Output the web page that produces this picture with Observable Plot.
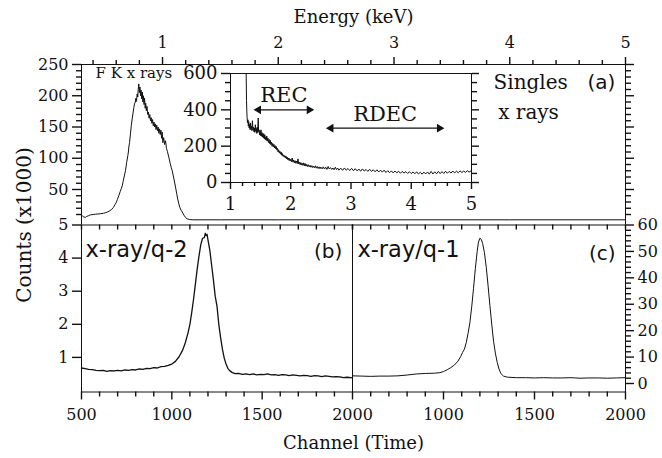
<!DOCTYPE html>
<html>
<head>
<meta charset="utf-8">
<script src="https://cdn.jsdelivr.net/npm/d3@7"></script>
<script src="https://cdn.jsdelivr.net/npm/@observablehq/plot@0.6"></script>
<style>
  html, body { margin: 0; padding: 0; background: #fff; }
  #chart { position: relative; width: 662px; height: 458px; background: #fff; overflow: hidden; }
  #chart svg { position: absolute; left: 0; top: 0; }
</style>
</head>
<body>
<div id="chart"></div>
<script>
// ---------- Panel (a): singles x-ray spectrum (energy in keV, counts x1000) ----------
const energyA = [0.300,0.310,0.320,0.335,0.345,0.360,0.378,0.400,0.420,0.440,0.464,0.490,0.510,0.522,0.540,0.560,0.576,0.590,0.600,0.610,
  0.622,0.635,0.645,0.652,0.660,0.668,0.675,0.680,0.690,0.700,0.705,0.709,0.715,0.723,0.730,0.738,0.745,0.752,0.758,0.765,
  0.770,0.775,0.781,0.786,0.790,0.795,0.800,0.805,0.810,0.815,0.820,0.825,0.830,0.835,0.840,0.845,0.850,0.855,0.860,0.866,
  0.872,0.878,0.884,0.890,0.896,0.902,0.908,0.914,0.920,0.926,0.932,0.938,0.944,0.950,0.956,0.962,0.968,0.974,0.980,0.986,
  0.992,0.997,1.003,1.010,1.018,1.026,1.034,1.042,1.054,1.066,1.076,1.084,1.095,1.104,1.112,1.122,1.131,1.141,1.150,1.160,
  1.170,1.185,1.200,1.213,1.235,1.256,1.500,2.000,3.000,4.000,5.000];
const countsA = [8.5,7.5,6.0,5.5,7.0,8.0,9.5,10.0,10.5,10.8,11.2,12.0,13.0,13.8,15.5,18.0,21.5,26.0,29.0,34.0,
  40.0,47.0,52.0,56.0,63.0,70.0,76.0,80.0,93.0,104.0,110.0,118.0,125.0,139.0,152.0,163.0,172.0,181.0,187.0,190.0,
  196.0,191.0,203.0,198.0,210.0,219.0,205.0,214.0,200.0,209.0,195.0,206.0,190.0,200.0,186.0,196.0,180.0,188.0,176.0,183.0,
  170.0,174.0,164.0,170.0,160.0,165.0,156.0,162.0,152.0,158.0,150.0,155.0,146.0,153.0,144.0,150.0,140.0,147.0,138.0,145.0,
  132.0,142.0,125.0,133.0,122.0,128.0,116.0,111.0,102.0,92.0,85.0,80.0,70.0,62.0,54.0,44.0,35.0,27.0,21.0,17.0,
  14.0,9.0,5.0,3.0,2.0,1.5,1.5,1.5,1.5,1.5,1.5];

// ---------- Inset: REC / RDEC region (energy in keV, counts) ----------
const insetEnergy = [1.260,1.263,1.266,1.270,1.275,1.282,1.290,1.296,1.303,1.310,1.318,1.325,1.333,1.340,1.348,1.356,1.364,1.372,1.380,1.388,
  1.396,1.404,1.412,1.420,1.428,1.436,1.444,1.452,1.460,1.466,1.474,1.482,1.490,1.498,1.506,1.514,1.522,1.530,1.538,1.546,
  1.554,1.562,1.570,1.578,1.586,1.594,1.602,1.610,1.620,1.630,1.640,1.650,1.660,1.670,1.680,1.690,1.700,1.710,1.720,1.730,
  1.740,1.750,1.760,1.770,1.780,1.790,1.800,1.810,1.820,1.830,1.840,1.850,1.860,1.870,1.880,1.890,1.900,1.910,1.920,1.930,
  1.940,1.950,1.960,1.970,1.980,1.990,2.000,2.012,2.024,2.036,2.048,2.060,2.072,2.084,2.096,2.108,2.120,2.132,2.144,2.156,
  2.168,2.180,2.192,2.204,2.216,2.228,2.240,2.252,2.264,2.276,2.290,2.305,2.320,2.335,2.350,2.365,2.380,2.395,2.410,2.425,
  2.440,2.455,2.470,2.485,2.500,2.520,2.540,2.560,2.580,2.600,2.620,2.640,2.660,2.680,2.700,2.720,2.740,2.760,2.780,2.800,
  2.830,2.860,2.890,2.920,2.950,2.980,3.010,3.040,3.070,3.100,3.130,3.160,3.190,3.220,3.250,3.280,3.310,3.340,3.370,3.400,
  3.430,3.460,3.490,3.520,3.550,3.580,3.610,3.640,3.670,3.700,3.730,3.760,3.790,3.820,3.850,3.880,3.910,3.940,3.970,4.000,
  4.030,4.060,4.090,4.120,4.150,4.180,4.210,4.240,4.270,4.300,4.330,4.360,4.390,4.420,4.450,4.480,4.510,4.540,4.570,4.600,
  4.630,4.660,4.690,4.720,4.750,4.780,4.810,4.840,4.870,4.900,4.930,4.960,4.990];
const insetCounts = [600,520,450,398,360,330,345,310,335,300,320,290,328,295,310,285,340,290,305,280,
  300,276,318,282,298,270,305,275,355,280,290,262,285,258,290,255,275,250,270,246,
  268,240,262,236,250,232,256,228,245,220,238,214,232,208,222,200,215,196,210,190,
  203,185,198,178,188,168,180,162,172,156,168,150,160,145,152,140,148,135,146,130,
  140,126,135,122,132,118,128,115,135,112,124,108,120,106,118,104,130,102,112,98,
  110,96,106,94,108,92,104,90,100,88,98,86,95,84,93,82,90,80,92,79,
  88,77,86,76,85,75,86,74,84,72,88,74,82,72,80,70,84,71,79,68,
  79,67,80,68,77,66,78,65,76,64,74,62,75,63,72,61,73,61,70,59,
  70,58,68,57,68,55,65,54,64,53,63,53,62,51,61,52,60,50,59,49,
  58,48,59,47,56,46,57,47,58,46,61,47,59,48,61,49,60,50,62,51,
  61,52,63,53,62,54,64,55,63,56,65,57,64];

// ---------- Panel (b): x-ray/q-2 coincidence (channel, counts x1000) ----------
const channelB = [500,520,540,560,580,600,620,640,660,680,700,720,740,760,780,800,820,840,860,880,
  900,920,940,960,980,1000,1020,1040,1060,1075,1090,1100,1110,1120,1130,1140,1150,1160,1170,1180,
  1185,1190,1195,1200,1210,1220,1230,1240,1250,1260,1270,1280,1290,1300,1310,1320,1335,1350,1370,1390,
  1410,1430,1450,1470,1490,1510,1530,1550,1570,1590,1610,1630,1650,1670,1690,1710,1730,1750,1770,1790,
  1810,1830,1850,1870,1890,1910,1930,1950,1970,1990,2000];
const countsB = [0.68,0.66,0.64,0.63,0.61,0.60,0.61,0.58,0.60,0.59,0.61,0.59,0.62,0.61,0.63,0.62,0.65,0.64,0.67,0.66,
  0.69,0.68,0.72,0.73,0.76,0.80,0.88,1.02,1.22,1.45,1.75,2.00,2.35,2.75,3.20,3.65,4.05,4.40,4.60,4.62,
  4.75,4.68,4.72,4.55,4.25,3.80,3.35,2.85,2.55,2.00,1.60,1.25,0.98,0.80,0.67,0.60,0.54,0.51,0.52,0.49,
  0.50,0.48,0.50,0.47,0.49,0.48,0.50,0.47,0.48,0.46,0.48,0.47,0.45,0.47,0.46,0.44,0.46,0.45,0.43,0.45,
  0.44,0.42,0.44,0.43,0.41,0.42,0.41,0.39,0.40,0.39,0.38];

// ---------- Panel (c): x-ray/q-1 coincidence (channel, counts x1000) ----------
const channelC = [500,550,600,650,700,750,800,850,900,950,980,1000,1020,1040,1060,1080,1095,1105,1115,1125,
  1135,1145,1155,1165,1175,1185,1192,1200,1208,1215,1225,1235,1245,1255,1265,1275,1285,1295,1305,1315,
  1330,1350,1400,1450,1500,1550,1600,1650,1700,1750,1800,1850,1900,1950,2000];
const countsC = [2.9,2.8,2.7,2.8,2.8,2.9,3.2,3.6,3.8,3.9,4.1,4.5,5.2,6.0,7.0,8.5,10.3,11.8,13.0,15.5,
  19.0,23.0,29.0,36.0,43.5,50.0,53.5,55.0,54.5,53.0,49.5,44.0,37.0,29.5,22.5,16.0,11.5,8.0,5.5,3.8,
  2.8,2.4,2.2,2.2,2.1,2.2,2.1,2.1,2.2,2.0,2.1,2.1,2.0,2.1,2.2];

// ---------- Tick labels ----------
const energyTicks = [1, 2, 3, 4, 5];
const countsATicks = [50, 100, 150, 200, 250];
const insetXTicks = [1, 2, 3, 4, 5];
const insetYTicks = [0, 200, 400, 600];
const countsBTicks = [1, 2, 3, 4, 5];
const channelBTicks = [500, 1000, 1500, 2000];
const channelCTicks = [1000, 1500, 2000];
const countsCTicks = [0, 10, 20, 30, 40, 50, 60];

// ---------- Annotations ----------
const arrowsInset = [
  {label: "REC", from: 1.415, to: 2.357, level: 400},
  {label: "RDEC", from: 2.617, to: 4.517, level: 299}
];

// ---------- Layout ----------
const W = 662, H = 458;
const ink = "#111";
const serif = "DejaVu Serif";
const sans = "DejaVu Sans";
const tw = 1.4;
const box = {aL: 81, aR: 625, aT: 64, mid: 224.5, bR: 352, bot: 391.5};
const minorE = d3.range(2, 26).filter(i => i % 5 !== 0).map(i => i / 5);
const minorA = d3.range(1, 26).filter(i => i % 5 !== 0).map(i => i * 10);
const minorInsetY = d3.range(1, 12).filter(i => i % 4 !== 0).map(i => i * 50);
const minorInsetX = d3.range(5, 26).filter(i => i % 5 !== 0).map(i => i / 5);
const minorCh = d3.range(6, 20).filter(i => i % 5 !== 0).map(i => i * 100);
const allCh = d3.range(5, 21).map(i => i * 100);
const minorC = d3.range(1, 30).filter(i => i % 5 !== 0).map(i => i * 2);
const blank = () => "";
const plain = d => String(d);

const chart = document.getElementById("chart");
function add(svg) {
  svg.style.position = "absolute";
  svg.style.left = "0px";
  svg.style.top = "0px";
  svg.style.background = "transparent";
  svg.style.overflow = "visible";
  chart.appendChild(svg);
}
const baseStyle = {fontFamily: serif, fontSize: "16px", background: "transparent", overflow: "visible", color: ink};

// Panel (a)
add(Plot.plot({
  width: W, height: H,
  marginTop: box.aT, marginBottom: H - box.mid, marginLeft: box.aL, marginRight: W - box.aR,
  x: {type: "linear", domain: [0.30, 5], axis: null},
  y: {type: "linear", domain: [-6.8, 250], axis: null},
  style: baseStyle,
  marks: [
    Plot.ruleY([250], {stroke: ink}),
    Plot.ruleX([0.30, 5], {stroke: ink}),
    Plot.axisX(minorE, {anchor: "top", tickSize: 5, tickFormat: blank, label: null, stroke: ink, strokeWidth: tw}),
    Plot.axisX(energyTicks, {anchor: "top", tickSize: 8, tickPadding: 9, tickFormat: plain, label: null, fontSize: 16, stroke: ink, strokeWidth: tw, fill: ink}),
    Plot.axisY(minorA, {anchor: "left", tickSize: 5, tickFormat: blank, label: null, stroke: ink, strokeWidth: tw}),
    Plot.axisY(countsATicks, {anchor: "left", tickSize: 9, tickPadding: 4, tickFormat: plain, label: null, fontSize: 16, stroke: ink, strokeWidth: tw, fill: ink}),
    Plot.axisY(minorA, {anchor: "right", tickSize: 5, tickFormat: blank, label: null, stroke: ink, strokeWidth: tw}),
    Plot.axisY(countsATicks, {anchor: "right", tickSize: 8, tickFormat: blank, label: null, stroke: ink, strokeWidth: tw}),
    Plot.line(energyA, {x: energyA, y: countsA, stroke: ink, strokeWidth: 1}),
    Plot.text(["Energy (keV)"], {frameAnchor: "top", textAnchor: "middle", lineAnchor: "middle", dy: -47, fontFamily: serif, fontSize: 18, fill: ink}),
    Plot.text(["F K x rays"], {x: 0.421, y: 229, textAnchor: "start", lineAnchor: "bottom", fontFamily: serif, fontSize: 15, fill: ink}),
    Plot.text(["Singles"], {x: 3.86, y: 211.6, textAnchor: "start", lineAnchor: "bottom", fontFamily: serif, fontSize: 20, fill: ink}),
    Plot.text(["x rays"], {x: 3.90, y: 163.6, textAnchor: "start", lineAnchor: "bottom", fontFamily: serif, fontSize: 20, fill: ink}),
    Plot.text(["(a)"], {x: 4.913, y: 211, textAnchor: "end", lineAnchor: "bottom", fontFamily: sans, fontSize: 20, fill: ink}),
    Plot.text(["Counts (x1000)"], {frameAnchor: "bottom-left", textAnchor: "middle", lineAnchor: "middle", dx: -57, rotate: -90, fontFamily: serif, fontSize: 20, fill: ink})
  ]
}));

// Inset
add(Plot.plot({
  width: W, height: H,
  marginTop: 73, marginBottom: H - 182, marginLeft: 230, marginRight: W - 471,
  x: {type: "linear", domain: [1, 5], axis: null},
  y: {type: "linear", domain: [0, 600], axis: null},
  style: baseStyle,
  marks: [
    Plot.frame({stroke: ink}),
    Plot.axisX(minorInsetX, {anchor: "bottom", tickSize: 4, tickFormat: blank, label: null, stroke: ink, strokeWidth: tw}),
    Plot.axisX(insetXTicks, {anchor: "bottom", tickSize: 7, tickPadding: 8, tickFormat: plain, label: null, fontSize: 18, stroke: ink, strokeWidth: tw, fill: ink}),
    Plot.axisY(minorInsetY, {anchor: "left", tickSize: 5, tickFormat: blank, label: null, stroke: ink, strokeWidth: tw}),
    Plot.axisY(insetYTicks, {anchor: "left", tickSize: 9, tickPadding: 4, tickFormat: plain, label: null, fontSize: 18, stroke: ink, strokeWidth: tw, fill: ink}),
    Plot.axisY(minorInsetY, {anchor: "right", tickSize: 5, tickFormat: blank, label: null, stroke: ink, strokeWidth: tw}),
    Plot.axisY(insetYTicks, {anchor: "right", tickSize: 7, tickFormat: blank, label: null, stroke: ink, strokeWidth: tw}),
    Plot.line(insetEnergy, {x: insetEnergy, y: insetCounts, stroke: ink, strokeWidth: 1}),
    Plot.link(arrowsInset, {x1: "from", x2: "to", y1: "level", y2: "level", stroke: ink, strokeWidth: 1.2}),
    Plot.dot(arrowsInset, {x: "from", y: "level", symbol: "triangle", r: 3.2, rotate: -90, dx: 3, fill: ink, stroke: null}),
    Plot.dot(arrowsInset, {x: "to", y: "level", symbol: "triangle", r: 3.2, rotate: 90, dx: -3, fill: ink, stroke: null}),
    Plot.text(arrowsInset, {x: d => (d.from + d.to) / 2, y: d => d.level + 42, text: "label", lineAnchor: "bottom", fontFamily: serif, fontSize: 21, fill: ink})
  ]
}));

// Panel (b)
add(Plot.plot({
  width: W, height: H,
  marginTop: box.mid, marginBottom: H - box.bot, marginLeft: box.aL, marginRight: W - box.bR,
  x: {type: "linear", domain: [500, 2000], axis: null},
  y: {type: "linear", domain: [-0.045, 5], axis: null},
  style: baseStyle,
  marks: [
    Plot.frame({stroke: ink}),
    Plot.tickX(allCh, {x: d => d, insetBottom: (box.bot - box.mid) - 5, stroke: ink, strokeWidth: tw}),
    Plot.axisX(minorCh, {anchor: "bottom", tickSize: 5, tickFormat: blank, label: null, stroke: ink, strokeWidth: tw}),
    Plot.axisX(channelBTicks, {anchor: "bottom", tickSize: 8, tickPadding: 9, tickFormat: plain, label: null, fontSize: 16, stroke: ink, strokeWidth: tw, fill: ink}),
    Plot.axisY(countsBTicks, {anchor: "left", tickSize: 9, tickPadding: 4, tickFormat: plain, label: null, fontSize: 16, stroke: ink, strokeWidth: tw, fill: ink}),
    Plot.line(channelB, {x: channelB, y: countsB, stroke: ink, strokeWidth: 1.3}),
    Plot.text(["x-ray/q-2"], {x: 522, y: 4.02, textAnchor: "start", lineAnchor: "bottom", fontFamily: sans, fontSize: 22.5, fill: ink}),
    Plot.text(["(b)"], {x: 1944, y: 3.99, textAnchor: "end", lineAnchor: "bottom", fontFamily: sans, fontSize: 20, fill: ink})
  ]
}));

// Panel (c)
add(Plot.plot({
  width: W, height: H,
  marginTop: box.mid, marginBottom: H - box.bot, marginLeft: box.bR, marginRight: W - box.aR,
  x: {type: "linear", domain: [500, 2000], axis: null},
  y: {type: "linear", domain: [-3.22, 60], axis: null},
  style: baseStyle,
  marks: [
    Plot.frame({stroke: ink}),
    Plot.tickX(allCh, {x: d => d, insetBottom: (box.bot - box.mid) - 5, stroke: ink, strokeWidth: tw}),
    Plot.axisX(minorCh, {anchor: "bottom", tickSize: 5, tickFormat: blank, label: null, stroke: ink, strokeWidth: tw}),
    Plot.axisX(channelCTicks, {anchor: "bottom", tickSize: 8, tickPadding: 9, tickFormat: plain, label: null, fontSize: 16, stroke: ink, strokeWidth: tw, fill: ink}),
    Plot.axisY(minorC, {anchor: "right", tickSize: 5, tickFormat: blank, label: null, stroke: ink, strokeWidth: tw}),
    Plot.axisY(countsCTicks, {anchor: "right", tickSize: 8, tickPadding: 4, tickFormat: plain, label: null, fontSize: 16, stroke: ink, strokeWidth: tw, fill: ink}),
    Plot.line(channelC, {x: channelC, y: countsC, stroke: ink, strokeWidth: 1}),
    Plot.text(["x-ray/q-1"], {x: 527, y: 47.7, textAnchor: "start", lineAnchor: "bottom", fontFamily: sans, fontSize: 22.5, fill: ink}),
    Plot.text(["(c)"], {x: 1945, y: 46.9, textAnchor: "end", lineAnchor: "bottom", fontFamily: sans, fontSize: 20, fill: ink}),
    Plot.text(["Channel (Time)"], {frameAnchor: "bottom-left", textAnchor: "middle", lineAnchor: "middle", dx: 1, dy: 51, fontFamily: serif, fontSize: 18, fill: ink})
  ]
}));
</script>
</body>
</html>
